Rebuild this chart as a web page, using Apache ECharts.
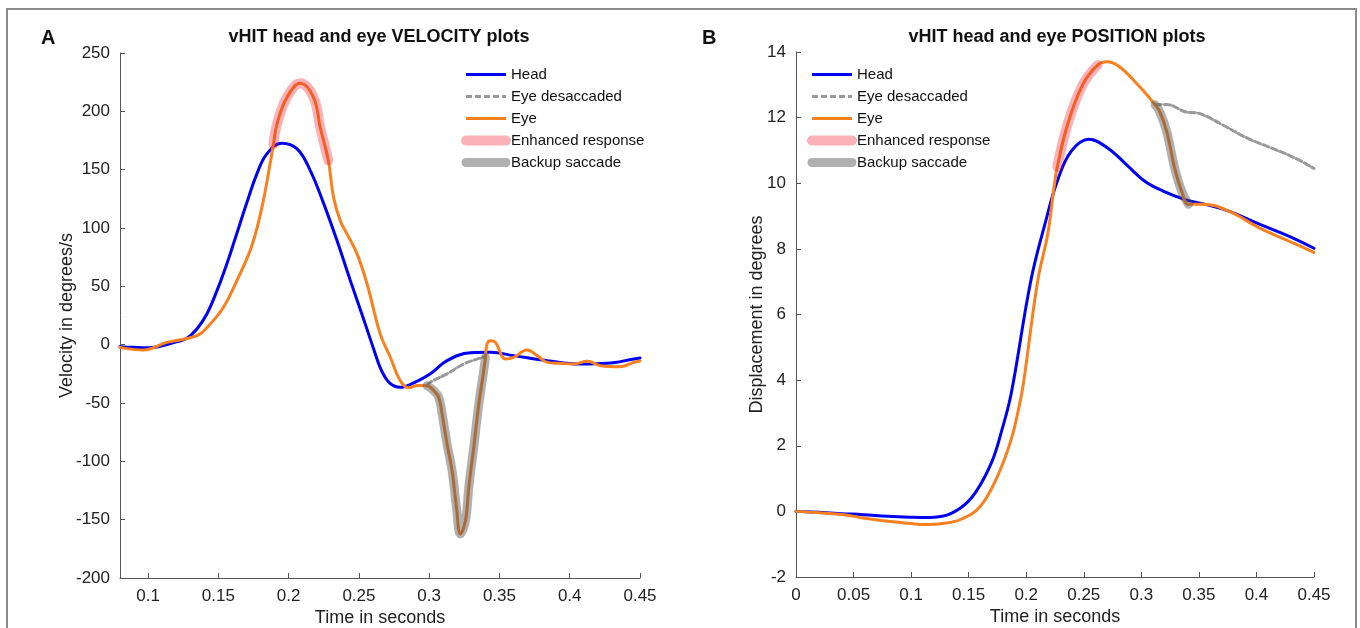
<!DOCTYPE html>
<html><head><meta charset="utf-8">
<script src="https://cdn.jsdelivr.net/npm/echarts@6/dist/echarts.min.js"></script>
<style>html,body{margin:0;padding:0;background:#fff}#chart{width:1360px;height:628px}</style>
</head><body><div id="chart"></div>
<script>
// ---------- DATA ----------
const legendNames = ['Head', 'Eye desaccaded', 'Eye', 'Enhanced response', 'Backup saccade'];
const velocityTimeTicks = [0.1, 0.15, 0.2, 0.25, 0.3, 0.35, 0.4, 0.45];

// Panel A: velocity (deg/s) vs time (s)
const velocityHead = [[0.080,-1.7],[0.090,-2.3],[0.101,-2.6],[0.110,-1.0],[0.120,2.5],[0.127,5],[0.1347,13.5],[0.1418,26.3],[0.149,46.3],[0.156,69.2],[0.163,94.9],[0.170,120.7],[0.1774,146.4],[0.1845,163.5],[0.195,172.6],[0.206,167.8],[0.2154,149.2],[0.225,120.7],[0.2344,89.2],[0.2439,54.9],[0.2533,22],[0.2600,-2],[0.2660,-22],[0.2720,-33],[0.2795,-36.6],[0.2887,-33],[0.3009,-25],[0.3127,-13.7],[0.3293,-7],[0.3436,-6.6],[0.3602,-9.4],[0.384,-13.7],[0.4077,-16.6],[0.4267,-16],[0.4457,-12.3],[0.45,-11.5]];
const velocityEye = [[0.080,-2.3],[0.0967,-4.6],[0.1133,2],[0.1347,7.7],[0.1442,17.7],[0.1536,32],[0.1632,55],[0.1726,80.6],[0.1775,100],[0.1821,124],[0.1855,146],[0.1892,172],[0.1917,189],[0.1988,212],[0.2083,224],[0.2177,212],[0.2225,186],[0.2282,158],[0.232,126],[0.2368,106],[0.2415,95],[0.2486,78],[0.2558,52],[0.2652,9],[0.2724,-11],[0.279,-30],[0.2855,-37],[0.292,-35],[0.2985,-35.2],[0.3032,-39.4],[0.3068,-45.2],[0.3092,-59.4],[0.3127,-85.2],[0.3163,-108],[0.3194,-139.5],[0.3222,-162.3],[0.3258,-151],[0.3282,-122],[0.3317,-88],[0.3353,-51],[0.3388,-22.3],[0.3400,-11],[0.3412,0.6],[0.3436,3.4],[0.3471,2],[0.3543,-12.3],[0.3602,-10.9],[0.3697,-4.6],[0.3768,-9.4],[0.384,-15.2],[0.3934,-16],[0.4029,-16.6],[0.4125,-14.3],[0.422,-18],[0.4362,-18.9],[0.4457,-15.2],[0.45,-14]];
const velocityDesaccaded = [[0.2985,-35],[0.3009,-32],[0.3127,-25],[0.3246,-16.6],[0.3365,-11.4],[0.3400,-10]];
const velocityEnhancedRange = [0.188, 0.229];
const velocityBackupRange = [0.298, 0.3401];

// Panel B: position (deg) vs time (s)
const positionHead = [[0,0],[0.02,-0.03],[0.04,-0.07],[0.058,-0.1],[0.08,-0.15],[0.1,-0.18],[0.112,-0.19],[0.127,-0.15],[0.1435,0.12],[0.156,0.58],[0.17,1.5],[0.179,2.5],[0.187,3.6],[0.204,7.03],[0.217,8.85],[0.227,10.06],[0.239,10.97],[0.2545,11.34],[0.271,11.07],[0.287,10.57],[0.303,10.06],[0.319,9.76],[0.338,9.5],[0.354,9.37],[0.376,9.15],[0.402,8.76],[0.428,8.39],[0.45,8.02]];
const positionEye = [[0,0],[0.02,-0.04],[0.042,-0.1],[0.058,-0.2],[0.08,-0.3],[0.1,-0.37],[0.112,-0.4],[0.127,-0.37],[0.1435,-0.24],[0.16,0.15],[0.175,1.07],[0.187,2.2],[0.195,3.4],[0.198,4.0],[0.21,7.03],[0.2187,8.45],[0.2235,9.7],[0.227,10.5],[0.236,11.8],[0.249,13.0],[0.262,13.6],[0.27,13.7],[0.281,13.55],[0.297,13.0],[0.312,12.39],[0.316,12.18],[0.322,11.58],[0.329,10.46],[0.335,9.76],[0.341,9.36],[0.354,9.36],[0.376,9.15],[0.402,8.65],[0.428,8.24],[0.45,7.89]];
const positionDesaccaded = [[0.312,12.39],[0.322,12.4],[0.338,12.18],[0.351,12.12],[0.37,11.79],[0.393,11.36],[0.414,11.06],[0.434,10.76],[0.45,10.45]];
const positionEnhancedRange = [0.226, 0.2625];
const positionBackupRange = [0.311, 0.342];

// ---------- STYLE ----------
const FONT = '"Liberation Sans", Arial, Helvetica, sans-serif';
const styles = {
  'Head': {color: '#0000f5', width: 3},
  'Eye desaccaded': {color: '#999999', width: 3, type: [6, 3]},
  'Eye': {color: '#f8801e', width: 3},
  'Enhanced response': {color: 'rgba(240,20,40,0.33)', width: 10, cap: 'round'},
  'Backup saccade': {color: 'rgba(80,80,80,0.45)', width: 9, cap: 'round'}
};
function inRange(data, r) { return data.filter(p => p[0] >= r[0] && p[0] <= r[1]); }
function line(name, data, gi) {
  const s = styles[name];
  return {
    name, type: 'line', xAxisIndex: gi, yAxisIndex: gi, data,
    symbol: 'none', smooth: 0.4, silent: true, animation: false,
    color: s.color,
    lineStyle: {color: s.color, width: s.width, type: s.type || 'solid', cap: s.cap || 'round', join: 'round'}
  };
}
const axisColor = '#555';
function xAxis(gi, min, max, extra) {
  return Object.assign({
    type: 'value', gridIndex: gi, min, max,
    axisLine: {show: true, onZero: false, lineStyle: {color: axisColor, width: 1}},
    axisTick: {show: true, inside: true, length: 5, lineStyle: {color: axisColor}},
    axisLabel: {fontSize: 17, color: '#222', margin: 10, fontFamily: FONT},
    splitLine: {show: false},
    name: 'Time in seconds', nameLocation: 'middle', nameGap: 31, nameMoveOverlap: false,
    nameTextStyle: {fontSize: 18, color: '#222', fontFamily: FONT}
  }, extra);
}
function yAxis(gi, min, max, interval, name, gap) {
  return {
    type: 'value', gridIndex: gi, min, max, interval,
    axisLine: {show: true, onZero: false, lineStyle: {color: axisColor, width: 1}},
    axisTick: {show: true, inside: true, length: 5, lineStyle: {color: axisColor}},
    axisLabel: {fontSize: 17, color: '#222', margin: 10, fontFamily: FONT},
    splitLine: {show: false},
    name, nameLocation: 'middle', nameGap: gap, nameMoveOverlap: false,
    nameTextStyle: {fontSize: 18, color: '#222', fontFamily: FONT}
  };
}
function legendFor(left) {
  return {
    left, top: 67, orient: 'vertical', itemWidth: 40, itemHeight: 14, itemGap: 7, padding: 0,
    selectedMode: false,
    itemStyle: {opacity: 0},
    textStyle: {fontSize: 15, color: '#111', fontFamily: FONT},
    data: legendNames.map(n => ({
      name: n,
      itemStyle: {opacity: 0, borderWidth: 0},
      lineStyle: {width: styles[n].width, type: styles[n].type || 'solid', cap: styles[n].cap || 'butt'}
    }))
  };
}

const option = {
  backgroundColor: '#fff',
  animation: false,
  title: [
    {text: 'A', left: 41, top: 28, padding: 0, textStyle: {fontSize: 20, fontWeight: 'bold', color: '#111', fontFamily: FONT}},
    {text: 'vHIT head and eye VELOCITY plots', left: 379, top: 28, padding: 0, textAlign: 'center', textStyle: {fontSize: 18, fontWeight: 'bold', color: '#111', fontFamily: FONT}},
    {text: 'B', left: 702, top: 28, padding: 0, textStyle: {fontSize: 20, fontWeight: 'bold', color: '#111', fontFamily: FONT}},
    {text: 'vHIT head and eye POSITION plots', left: 1057, top: 28, padding: 0, textAlign: 'center', textStyle: {fontSize: 18, fontWeight: 'bold', color: '#111', fontFamily: FONT}}
  ],
  legend: [legendFor(461), legendFor(807)],
  grid: [
    {left: 120, top: 53, width: 520, height: 525, outerBoundsMode: 'none', containLabel: false},
    {left: 796, top: 52, width: 518, height: 525, outerBoundsMode: 'none', containLabel: false}
  ],
  xAxis: [
    xAxis(0, 0.08, 0.45, {
      axisTick: {show: true, inside: true, length: 5, lineStyle: {color: axisColor}, customValues: velocityTimeTicks},
      axisLabel: {fontSize: 17, color: '#222', margin: 10, fontFamily: FONT, customValues: velocityTimeTicks}
    }),
    xAxis(1, 0, 0.45, {interval: 0.05})
  ],
  yAxis: [
    yAxis(0, -200, 250, 50, 'Velocity in degrees/s', 44),
    yAxis(1, -2, 14, 2, 'Displacement in degrees', 30)
  ],
  series: [
    line('Head', velocityHead, 0),
    line('Eye desaccaded', velocityDesaccaded, 0),
    line('Eye', velocityEye, 0),
    line('Enhanced response', inRange(velocityEye, velocityEnhancedRange), 0),
    line('Backup saccade', inRange(velocityEye, velocityBackupRange), 0),
    line('Head', positionHead, 1),
    line('Eye desaccaded', positionDesaccaded, 1),
    line('Eye', positionEye, 1),
    line('Enhanced response', inRange(positionEye, positionEnhancedRange), 1),
    line('Backup saccade', inRange(positionEye, positionBackupRange), 1)
  ],
  graphic: [
    {type: 'rect', silent: true, z: 100, shape: {x: 7, y: 9, width: 1349, height: 640}, style: {fill: 'none', stroke: '#8a8a8a', lineWidth: 2}}
  ]
};
const chart = echarts.init(document.getElementById('chart'));
chart.setOption(option);
</script>
</body></html>
